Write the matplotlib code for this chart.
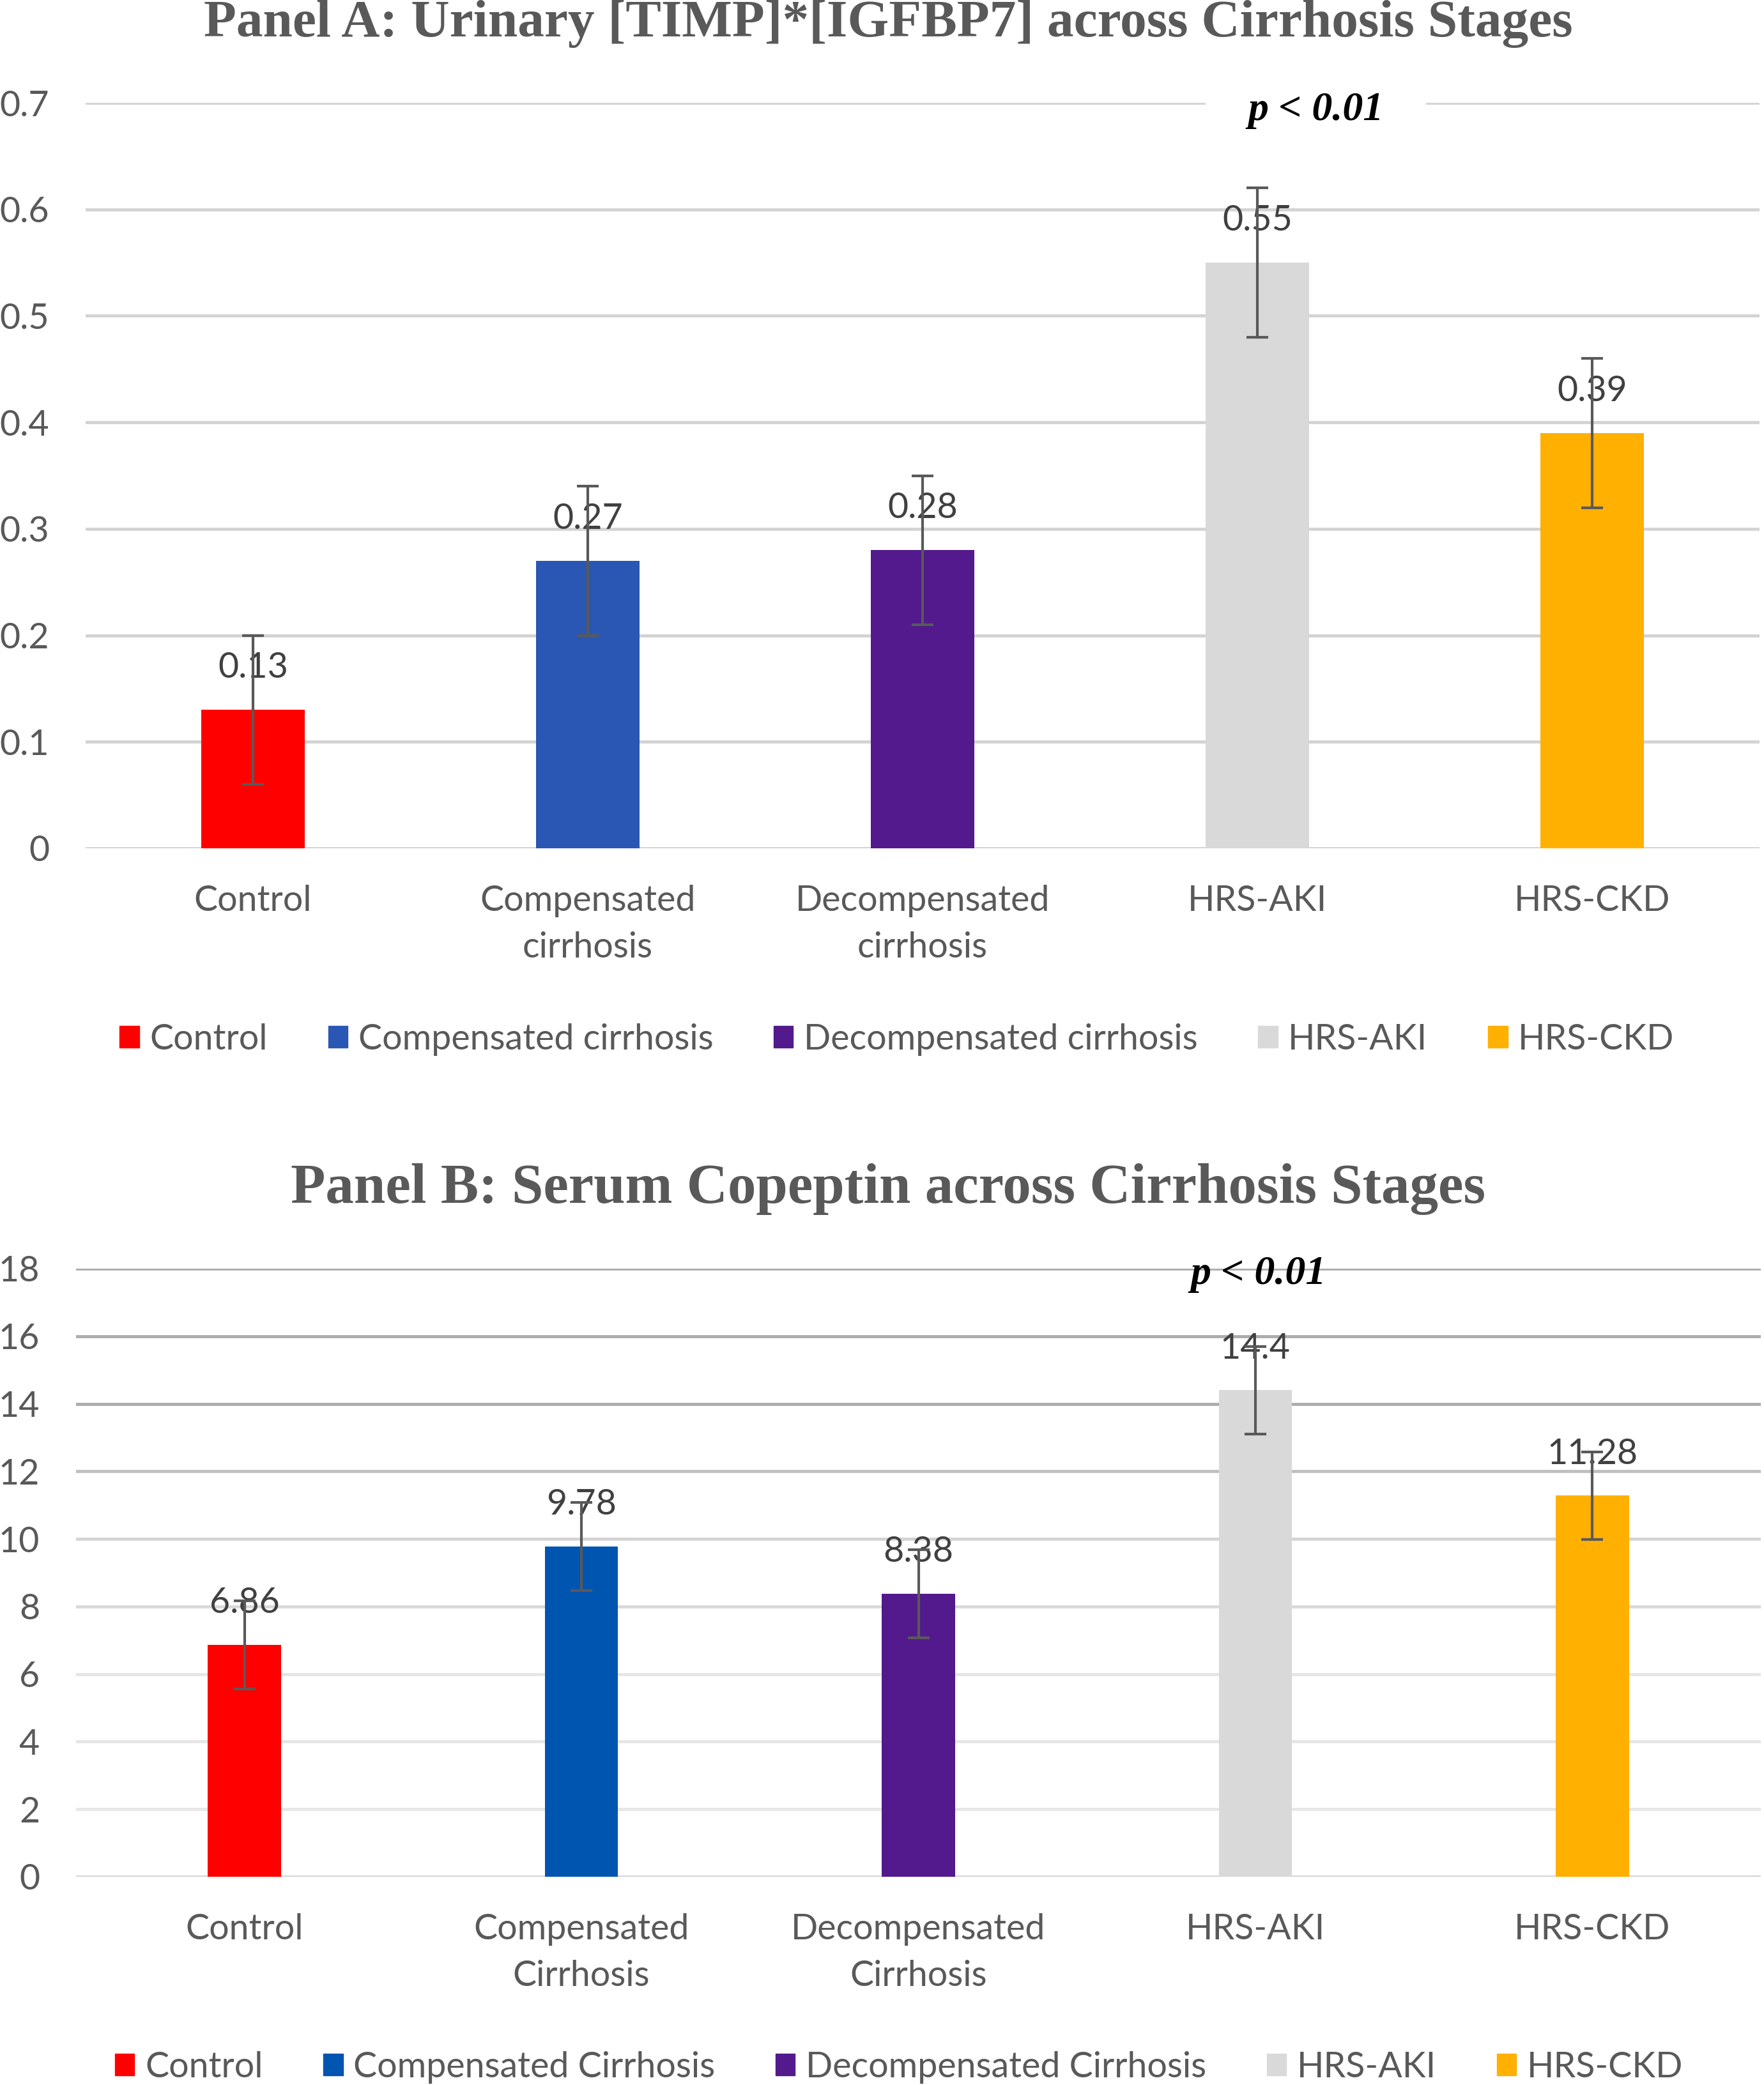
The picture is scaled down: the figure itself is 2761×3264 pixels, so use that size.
import numpy as np
import matplotlib
matplotlib.use('Agg')
import matplotlib.pyplot as plt
from matplotlib.patches import Patch

# ---- data ----
groups_a = ['Control', 'Compensated\ncirrhosis', 'Decompensated\ncirrhosis', 'HRS-AKI', 'HRS-CKD']
legend_a = ['Control', 'Compensated cirrhosis', 'Decompensated cirrhosis', 'HRS-AKI', 'HRS-CKD']
timp_vals = [0.13, 0.27, 0.28, 0.55, 0.39]
timp_err = [0.07, 0.07, 0.07, 0.07, 0.07]
yticks_a = [0, 0.1, 0.2, 0.3, 0.4, 0.5, 0.6, 0.7]
ylabels_a = ['0', '0.1', '0.2', '0.3', '0.4', '0.5', '0.6', '0.7']
labels_a = ['0.13', '0.27', '0.28', '0.55', '0.39']

groups_b = ['Control', 'Compensated\nCirrhosis', 'Decompensated\nCirrhosis', 'HRS-AKI', 'HRS-CKD']
legend_b = ['Control', 'Compensated Cirrhosis', 'Decompensated Cirrhosis', 'HRS-AKI', 'HRS-CKD']
copeptin_vals = [6.86, 9.78, 8.38, 14.4, 11.28]
copeptin_err = [1.3, 1.3, 1.3, 1.3, 1.3]
yticks_b = [0, 2, 4, 6, 8, 10, 12, 14, 16, 18]
ylabels_b = ['0', '2', '4', '6', '8', '10', '12', '14', '16', '18']
labels_b = ['6.86', '9.78', '8.38', '14.4', '11.28']

colors_a = ['#FF0000', '#2A57B4', '#521A8C', '#D9D9D9', '#FFB000']
colors_b = ['#FF0000', '#0055B0', '#521A8C', '#D9D9D9', '#FFB000']

txt = '#595959'
sans = ['Lato', 'DejaVu Sans']
serif = ['Liberation Serif', 'DejaVu Serif']

W, H = 2761, 3264
fig = plt.figure(figsize=(W / 100, H / 100), dpi=100)


def px_ax(l, t, r, b):
    return fig.add_axes([l / W, 1 - b / H, (r - l) / W, (b - t) / H])


def panel(ax, groups, vals, errs, colors, ylim, yticks, ylabels, dlabels, width, grid_cols):
    x = np.arange(len(groups))
    ax.bar(x, vals, width, color=colors, zorder=2,
           yerr=errs, error_kw=dict(ecolor='#595959', elinewidth=3, capsize=12,
                                    capthick=3, zorder=6))
    for xi, v, s in zip(x, vals, dlabels):
        ax.annotate(s, (xi, v), xytext=(0, 47), textcoords='offset points',
                    ha='center', va='center', fontsize=40, color='#404040',
                    family=sans, zorder=4)
    ax.set_xlim(-0.5, len(groups) - 0.5)
    ax.set_ylim(*ylim)
    ax.set_yticks(yticks)
    ax.set_yticklabels(ylabels, fontsize=40, color=txt, family=sans)
    ax.set_xticks(x)
    ax.set_xticklabels(groups, fontsize=40, color=txt, family=sans, linespacing=1.55)
    ax.tick_params(axis='y', length=0, pad=41)
    ax.tick_params(axis='x', length=0, pad=41)
    ax.set_axisbelow(True)
    ax.yaxis.grid(True, linewidth=3.5)
    for gl, c in zip(ax.get_ygridlines(), grid_cols):
        gl.set_color(c)
    for s in ax.spines.values():
        s.set_visible(False)


# Panel A
ax1 = px_ax(134, 161, 2754, 1328)
panel(ax1, groups_a, timp_vals, timp_err, colors_a, (0, 0.7), yticks_a, ylabels_a,
      labels_a, 0.31, ['#D3D3D3'] * len(yticks_a))
ax1.text(0.735, 0.99, 'p < 0.01', transform=ax1.transAxes, ha='center', va='center',
         fontsize=46, fontweight='bold', fontstyle='italic', family=serif, color='black',
         zorder=5, bbox=dict(facecolor='white', edgecolor='none', pad=48))
fig.text(1390 / W, 1 - 57 / H, 'Panel A: Urinary [TIMP]*[IGFBP7] across Cirrhosis Stages',
         ha='center', va='baseline', fontsize=60, fontweight='bold', family=serif, color=txt)
fig.legend([Patch(color=c) for c in colors_a], legend_a, loc='center',
           bbox_to_anchor=(1404 / W, 1 - 1627 / H), ncol=5, frameon=False,
           prop=dict(family=sans, size=40), labelcolor=txt,
           handlelength=0.55, handleheight=0.55, handletextpad=0.3, columnspacing=1.7)

# Panel B
ax2 = px_ax(119, 1986, 2756, 2938)
grid_b = ['#D3D3D3', '#E6E6E6', '#E6E6E6', '#E6E6E6', '#D9D9D9', '#D3D3D3',
          '#BFBFBF', '#ADADAD', '#ADADAD', '#ADADAD']
panel(ax2, groups_b, copeptin_vals, copeptin_err, colors_b, (0, 18), yticks_b, ylabels_b,
      labels_b, 0.217, grid_b)
ax2.text((1970 - 119) / (2756 - 119), 0.991, 'p < 0.01',
         transform=ax2.transAxes, ha='center', va='center',
         fontsize=46, fontweight='bold', fontstyle='italic', family=serif, color='black', zorder=5)
fig.text(1390 / W, 1 - 1883 / H, 'Panel B: Serum Copeptin across Cirrhosis Stages',
         ha='center', va='baseline', fontsize=64, fontweight='bold', family=serif, color=txt)
fig.legend([Patch(color=c) for c in colors_b], legend_b, loc='center',
           bbox_to_anchor=(1407 / W, 1 - 3236 / H), ncol=5, frameon=False,
           prop=dict(family=sans, size=40), labelcolor=txt,
           handlelength=0.55, handleheight=0.55, handletextpad=0.3, columnspacing=1.7)

fig.savefig('out.png', dpi=100)
